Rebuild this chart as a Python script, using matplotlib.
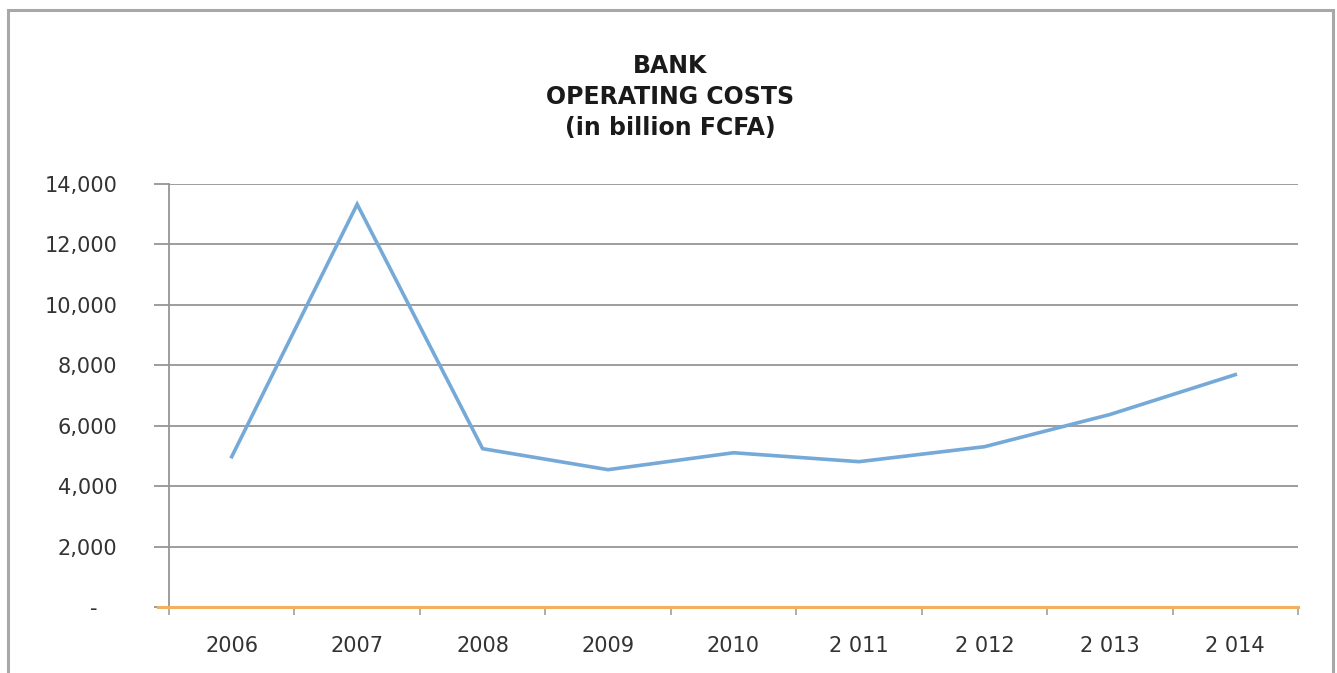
import numpy as np
import matplotlib
matplotlib.use("Agg")
import matplotlib.pyplot as plt
from matplotlib.patches import Rectangle

# operating costs, billion FCFA
years = ["2006", "2007", "2008", "2009", "2010", "2 011", "2 012", "2 013", "2 014"]
costs = [4975, 13330, 5240, 4545, 5105, 4810, 5305, 6370, 7690]
yticks = [0, 2000, 4000, 6000, 8000, 10000, 12000, 14000]
ytick_labels = ["-   ", "2,000", "4,000", "6,000", "8,000", "10,000", "12,000", "14,000"]

grid_col = "#959595"
line_col = "#74a9d8"
axis_col = "#f2b060"

plt.rcParams["font.family"] = ["DejaVu Sans"]

fig = plt.figure(figsize=(13.37, 6.73), dpi=100)
ax = fig.add_axes([169 / 1337, 1 - 607 / 673, (1298 - 169) / 1337, (607 - 184) / 673])

x = np.arange(len(years))
ax.plot(x, costs, color=line_col, lw=2.6, solid_joinstyle="miter", zorder=3)

ax.set_xlim(-0.5, len(years) - 0.5)
ax.set_ylim(0, 14000)

# horizontal grid
ax.set_yticks(yticks)
ax.set_yticklabels(ytick_labels, fontsize=15, color="#333333")
ax.yaxis.grid(True, color=grid_col, lw=1.3)
ax.tick_params(axis="y", length=11, width=1.3, color=grid_col, pad=26)
ax.set_axisbelow(True)

# category labels centred, boundary ticks below the axis
ax.set_xticks(x)
ax.set_xticklabels(years, fontsize=15, color="#333333")
ax.tick_params(axis="x", which="major", length=0, pad=21)
ax.set_xticks(np.arange(-0.5, len(years)), minor=True)
ax.tick_params(axis="x", which="minor", length=6, width=1.2, color="#a0a0a0")

for s in ["top", "right"]:
    ax.spines[s].set_visible(False)
ax.spines["left"].set_color(grid_col)
ax.spines["left"].set_linewidth(1.3)
ax.spines["bottom"].set_visible(False)
ax.axhline(0, xmin=-11 / 1129, xmax=1, color=axis_col, lw=2.2, clip_on=False, zorder=4)

fig.text(670 / 1337, 1 - 97 / 673,
         "BANK\nOPERATING COSTS\n(in billion FCFA)",
         ha="center", va="center", fontsize=17, fontweight="bold",
         color="#1a1a1a", linespacing=1.35)

# chart frame
fig.patches.append(Rectangle((8 / 1337, -0.05), (1333 - 8) / 1337, 1.05 - 10 / 673,
                             transform=fig.transFigure, fill=False,
                             edgecolor="#a8a8a8", lw=2.2))

fig.savefig("out.png", dpi=100)
